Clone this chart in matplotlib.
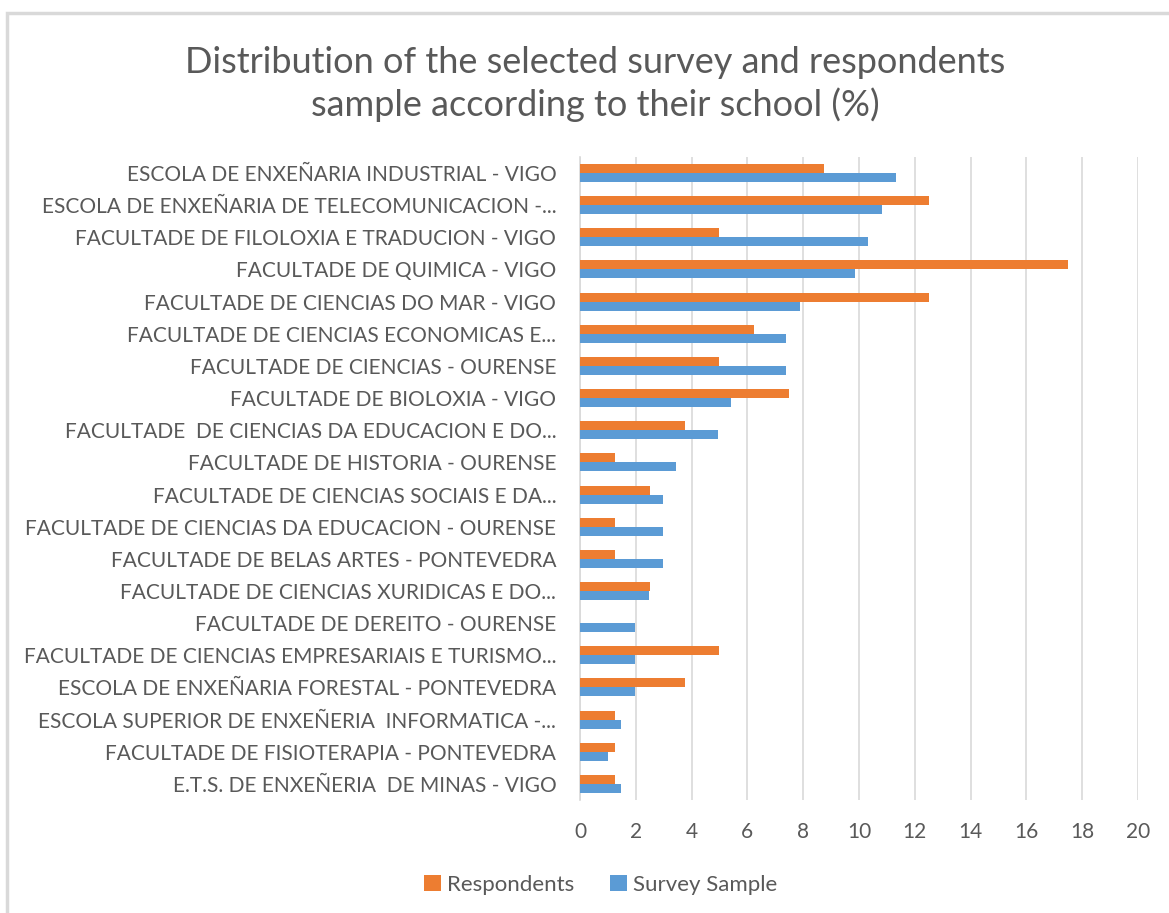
import numpy as np
import matplotlib
matplotlib.use('Agg')
import matplotlib.pyplot as plt
from matplotlib.patches import Rectangle

# Data (% per school)
schools = [
    "ESCOLA DE ENXEÑARIA INDUSTRIAL - VIGO",
    "ESCOLA DE ENXEÑARIA DE TELECOMUNICACION -...",
    "FACULTADE DE FILOLOXIA E TRADUCION - VIGO",
    "FACULTADE DE QUIMICA - VIGO",
    "FACULTADE DE CIENCIAS DO MAR - VIGO",
    "FACULTADE DE CIENCIAS ECONOMICAS E...",
    "FACULTADE DE CIENCIAS - OURENSE",
    "FACULTADE DE BIOLOXIA - VIGO",
    "FACULTADE  DE CIENCIAS DA EDUCACION E DO...",
    "FACULTADE DE HISTORIA - OURENSE",
    "FACULTADE DE CIENCIAS SOCIAIS E DA...",
    "FACULTADE DE CIENCIAS DA EDUCACION - OURENSE",
    "FACULTADE DE BELAS ARTES - PONTEVEDRA",
    "FACULTADE DE CIENCIAS XURIDICAS E DO...",
    "FACULTADE DE DEREITO - OURENSE",
    "FACULTADE DE CIENCIAS EMPRESARIAIS E TURISMO...",
    "ESCOLA DE ENXEÑARIA FORESTAL - PONTEVEDRA",
    "ESCOLA SUPERIOR DE ENXEÑERIA  INFORMATICA -...",
    "FACULTADE DE FISIOTERAPIA - PONTEVEDRA",
    "E.T.S. DE ENXEÑERIA  DE MINAS - VIGO",
]
respondents = [8.75, 12.5, 5.0, 17.5, 12.5, 6.25, 5.0, 7.5, 3.75, 1.25,
               2.5, 1.25, 1.25, 2.5, 0.0, 5.0, 3.75, 1.25, 1.25, 1.25]
survey_sample = [11.33, 10.84, 10.34, 9.85, 7.88, 7.39, 7.39, 5.42, 4.93, 3.45,
                 2.96, 2.96, 2.96, 2.46, 1.97, 1.97, 1.97, 1.48, 0.99, 1.48]
x_ticks = list(range(0, 21, 2))

ORANGE = '#ED7D31'
BLUE = '#5B9BD5'
TEXT = '#595959'
GRID = '#D9D9D9'

plt.rcParams['font.family'] = ['Lato', 'DejaVu Sans']

fig = plt.figure(figsize=(11.69, 9.13), dpi=100)
ax = fig.add_axes([0.4961, 0.1238, 0.4774, 0.7043])

# chart frame (only top/left visible in the original crop)
fig.patches.append(Rectangle((7 / 1169, -0.05), 1.1, 1 - 13 / 913 + 0.05,
                             transform=fig.transFigure, fill=False,
                             edgecolor='#D9D9D9', linewidth=2.5))

y = np.arange(len(schools))
h = 0.28
ax.barh(y - h / 2, respondents, height=h, color=ORANGE, label='Respondents', zorder=3)
ax.barh(y + h / 2, survey_sample, height=h, color=BLUE, label='Survey Sample', zorder=3)

ax.set_ylim(len(schools) - 0.5, -0.5)
ax.set_xlim(0, 20)
ax.set_xticks(x_ticks)
ax.set_yticks(y)
ax.set_yticklabels(schools, fontsize=15, color=TEXT)
ax.tick_params(axis='y', length=0, pad=17)
ax.tick_params(axis='x', length=0, pad=16, labelsize=15, labelcolor=TEXT)

ax.grid(axis='x', color=GRID, linewidth=1.2, zorder=0)
for s in ['top', 'right', 'bottom']:
    ax.spines[s].set_visible(False)
ax.spines['left'].set_color(GRID)
ax.spines['left'].set_linewidth(1.2)

fig.text(0.509, 0.932, "Distribution of the selected survey and respondents",
         ha='center', va='center', fontsize=26, color=TEXT)
fig.text(0.509, 0.885, "sample according to their school (%)",
         ha='center', va='center', fontsize=26, color=TEXT)

fig.legend(loc='center', bbox_to_anchor=(0.514, 0.031), ncol=2, frameon=False,
           fontsize=16, labelcolor=TEXT, handlelength=0.75, handleheight=0.75,
           handletextpad=0.3, columnspacing=1.6)

plt.savefig('out.png', dpi=100)
